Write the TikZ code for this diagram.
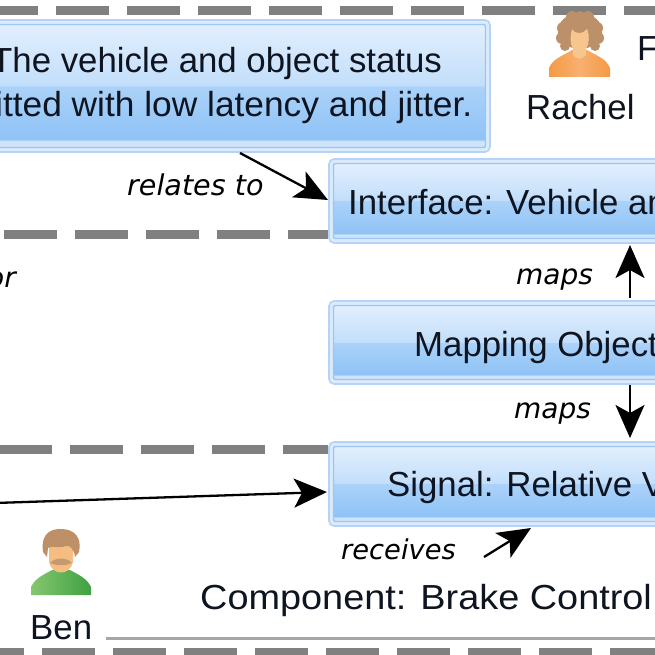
\documentclass[tikz,border=0pt]{standalone}
\usepackage{fontspec}
\setmainfont{Liberation Sans}
\newfontfamily\lblfont{DejaVu Sans}
\usetikzlibrary{arrows.meta,shadings,calc}
\definecolor{txt}{HTML}{0E1420}
\definecolor{edgeblue}{HTML}{B4D3F6}
\definecolor{inneredge}{HTML}{9CC5F2}
\definecolor{outerfill}{HTML}{DCEBFC}
\definecolor{g1}{HTML}{CFE4FB}
\definecolor{g2}{HTML}{8FC3F6}
\definecolor{g3}{HTML}{ABD2F9}
\definecolor{g4}{HTML}{C2DEFB}
\definecolor{g5}{HTML}{E2EFFD}
\definecolor{dashgray}{HTML}{808080}
\definecolor{rhair}{HTML}{BC9068}
\definecolor{rskin}{HTML}{F6C68E}
\definecolor{rbodyA}{HTML}{F59A45}
\definecolor{rbodyB}{HTML}{F7B070}
\definecolor{bbodyA}{HTML}{86C66E}
\definecolor{bbodyB}{HTML}{3FA143}
\definecolor{bhair}{HTML}{BD9068}
\definecolor{bskin}{HTML}{F5BE80}
\definecolor{bbeard}{HTML}{C49A70}
\pgfdeclareverticalshading{glassfill}{100bp}{
 color(0bp)=(g1); color(25bp)=(g1); color(27.5bp)=(g1); color(28.5bp)=(g2);
 color(50bp)=(g3); color(50.01bp)=(g4); color(75bp)=(g5); color(100bp)=(g5)}
\tikzset{
 glassouter/.style={draw=edgeblue,line width=1.6pt,fill=outerfill,rounded corners=5pt,inner sep=0pt,outer sep=0pt},
 glassinner/.style={draw=inneredge,line width=1.4pt,shading=glassfill,rounded corners=2pt,inner sep=0pt,outer sep=0pt},
 boxtext/.style={text=txt,inner sep=0pt,font=\fontsize{34.8}{40}\selectfont,anchor=base west},
 plaintext/.style={boxtext},
 linklabel/.style={text=black,inner sep=0pt,anchor=base west,font=\lblfont\itshape\fontsize{28}{32}\selectfont},
 band/.style={draw=dashgray,line width=9pt,dash pattern=on 53pt off 18pt},
 conn/.style={draw=black,line width=2.3pt,-{Stealth[length=33pt,width=29pt,inset=8pt]}},
}
\newcommand{\glassbox}[5]{%
 \node[glassouter,minimum width={(#4)-(#2)},minimum height={(#5)-(#3)}] (#1) at ({((#2)+(#4))/2},{((#3)+(#5))/2}) {};
 \node[glassinner,minimum width={(#4)-(#2)-9},minimum height={(#5)-(#3)-9}] (#1-in) at ({((#2)+(#4))/2},{((#3)+(#5))/2}) {};
}
\begin{document}
\begin{tikzpicture}[x=1pt,y=-1pt]
\useasboundingbox (0,0) rectangle (655,655);
\clip (0,0) rectangle (655,655);
\fill[white] (0,0) rectangle (655,655);
% swimlane bands
\coordinate (b1a) at (-15,11);  \coordinate (b1b) at (660,11);
\coordinate (b2a) at (4,234);   \coordinate (b2b) at (328,234);
\coordinate (b3a) at (-1,449);  \coordinate (b3b) at (328,449);
\coordinate (b4a) at (-29,652); \coordinate (b4b) at (660,652);
\draw[band] (b1a) -- (b1b);
\draw[band] (b2a) -- (b2b);
\draw[band] (b3a) -- (b3b);
\draw[band] (b4a) -- (b4b);
\coordinate (rulea) at (106,638); \coordinate (ruleb) at (660,638);
\draw[draw=black!35,line width=3pt] (rulea) -- (ruleb);
% boxes
\glassbox{req}{-40}{20}{490}{152}
\glassbox{iface}{329}{159}{800}{243}
\glassbox{mapobj}{329}{301}{800}{384}
\glassbox{signal}{329}{442}{800}{526}
% box texts
\node[boxtext] (t1) at (-9,73) {The vehicle and object status};
\node[boxtext] (t2) at (-5,117) {\scalebox{1.015}[1]{itted with low latency and jitter.}};
\node[boxtext] (t3) at (348,214) {Interface: Vehicle an};
\node[boxtext] (t4) at (414,356) {Mapping Object};
\node[boxtext] (t5) at (387,496) {Signal: Relative V};
\node[plaintext] (t6) at (200,609) {\scalebox{1.088}[1]{Component: Brake Control}};
\node[plaintext] (rachel) at (526,120) {Rachel};
\node[plaintext] (ben) at (30,639) {Ben};
\node[plaintext] (fr) at (637,61) {F};
% link labels
\node[linklabel,font=\lblfont\itshape\fontsize{28.6}{32}\selectfont] (l1) at (127,195) {relates to};
\node[linklabel] (l2) at (516,284) {maps};
\node[linklabel] (l3) at (514,418) {maps};
\node[linklabel,font=\lblfont\itshape\fontsize{27.3}{32}\selectfont] (l4) at (341,559) {receives};
\node[linklabel] (l5) at (-13,287) {or};
% connectors
\coordinate (c1) at (240,153);
\coordinate (c1e) at (328,200);
\draw[conn] (c1) -- (c1e);
\coordinate (c2) at (630,298);
\coordinate (c2e) at (630,245);
\draw[conn] (c2) -- (c2e);
\coordinate (c3) at (630,385);
\coordinate (c3e) at (630,438);
\draw[conn] (c3) -- (c3e);
\coordinate (c4) at (-5,503);
\coordinate (c4e) at (327,492);
\draw[conn] (c4) -- (c4e);
\coordinate (c5) at (484,557);
\coordinate (c5e) at (531,528);
\draw[conn] (c5) -- (c5e);
% Rachel avatar
\shade[left color=rbodyA,right color=rbodyA,middle color=rbodyB]
  (549,77) -- (549,68) .. controls (553,58) and (565,55) .. (572,50) -- (587,50) .. controls (595,55) and (606,58) .. (610,68) -- (610,77) -- cycle;
\fill[rhair] (580,31) ellipse (22 and 18);
\foreach \cx/\cy/\cr in {563/28/6,562/38/6,565/46/5,597/28/6,598/38/6,595/46/5,572/17/6,588/17/6,580/16/5}
  \fill[rhair] (\cx,\cy) circle (\cr);
\fill[rskin] (572,29) .. controls (576,35) and (583,34) .. (587,29) .. controls (590,36) and (589,44) .. (586,49) -- (586,55) .. controls (581,60) and (577,60) .. (573,55) -- (573,49) .. controls (570,44) and (570,36) .. (572,29) -- cycle;
% Ben avatar
\shade[left color=bbodyA,right color=bbodyB] (31,595) -- (31,587) .. controls (35,578) and (45,574) .. (52,570) -- (70,570) .. controls (77,574) and (87,578) .. (91,587) -- (91,595) -- cycle;
\fill[bskin] (49,545) -- (73,545) -- (73,562) .. controls (70,576) and (52,576) .. (49,562) -- cycle;
\fill[bhair] (43,552) .. controls (40,530) and (55,529) .. (61,529) .. controls (75,529) and (82,538) .. (79,552) -- (75,557) .. controls (74,549) and (70,545) .. (66,546) .. controls (58,549) and (51,545) .. (48,548) -- (47,557) -- cycle;
\fill[bbeard] (50,563) .. controls (55,557) and (67,557) .. (72,563) .. controls (65,566) and (57,566) .. (50,563) -- cycle;
\end{tikzpicture}
\end{document}
